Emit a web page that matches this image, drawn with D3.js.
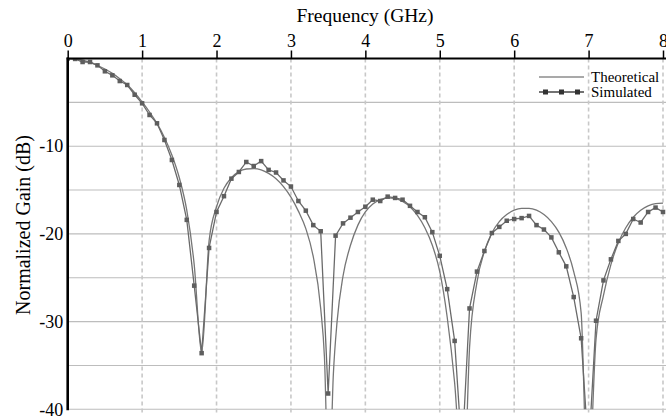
<!DOCTYPE html>
<html>
<head>
<meta charset="utf-8">
<script src="https://cdn.jsdelivr.net/npm/d3@7"></script>
<style>
  html, body { margin: 0; padding: 0; background: #fff; }
  svg { display: block; }
  svg text { font-family: "Liberation Serif", "Times New Roman", serif; fill: #000; }
</style>
</head>
<body>
<svg id="chart" width="666" height="418"></svg>
<script>
const xTicks = [0, 1, 2, 3, 4, 5, 6, 7, 8];
const yTickLabels = [-10, -20, -30, -40];
const yGrid = [-5, -10, -15, -20, -25, -30, -35, -40];
const seriesNames = ["Theoretical", "Simulated"];

const simFreq = [0.0,0.1,0.2,0.3,0.4,0.5,0.6,0.7,0.8,0.9,1.0,1.1,1.2,1.3,1.4,1.5,1.6,1.7,1.8,1.9,
  2.0,2.1,2.2,2.3,2.4,2.5,2.6,2.7,2.8,2.9,3.0,3.1,3.2,3.3,3.4,3.5,3.6,3.7,3.8,3.9,
  4.0,4.1,4.2,4.3,4.4,4.5,4.6,4.7,4.8,4.9,5.0,5.1,5.2,5.3,5.4,5.5,5.6,5.7,5.8,5.9,
  6.0,6.1,6.2,6.3,6.4,6.5,6.6,6.7,6.8,6.9,7.0,7.1,7.2,7.3,7.4,7.5,7.6,7.7,7.8,7.9,8.0];
const simGain = [0,-0.05,-0.4,-0.4,-0.78,-1.46,-1.92,-2.57,-3.02,-4.13,-5.11,-6.44,-7.39,-9.29,-11.57,-14.42,-18.4,-25.9,-33.6,-21.6,
  -17.5,-15.7,-13.7,-12.94,-11.8,-12.26,-11.7,-12.7,-13.0,-13.9,-14.6,-16.25,-17.35,-19.0,-19.7,-38.2,-20.2,-18.8,-18.15,-17.5,
  -16.9,-16.1,-16.25,-15.75,-15.9,-16.1,-16.8,-17.5,-18.1,-19.8,-22.5,-26.3,-32.2,-45,-28.5,-24.3,-21.95,-19.9,-19.2,-18.5,
  -18.3,-18.2,-17.95,-19.0,-19.5,-20.4,-22.1,-23.7,-27.2,-31.9,-45,-29.9,-25.3,-22.9,-20.8,-20.0,-18.3,-18.7,-17.5,-17.0,-17.5];

const theoFreq = [0.0,0.1,0.2,0.3,0.4,0.5,0.6,0.7,0.8,0.9,1.0,1.1,1.2,1.3,1.4,1.5,1.6,1.7,1.8,1.9,
  2.0,2.1,2.2,2.3,2.4,2.5,2.6,2.7,2.8,2.9,3.0,3.1,3.2,3.3,3.4,3.45,3.51,3.57,3.62,3.7,3.8,3.9,
  4.0,4.1,4.2,4.3,4.4,4.5,4.6,4.7,4.8,4.9,5.0,5.1,5.2,5.32,5.4,5.5,5.6,5.7,5.8,5.9,
  6.0,6.1,6.2,6.3,6.4,6.5,6.6,6.7,6.8,6.9,6.99,7.1,7.2,7.3,7.4,7.5,7.6,7.7,7.8,7.9,8.0];
const theoGain = [0,-0.05,-0.2,-0.45,-0.8,-1.2,-1.7,-2.3,-3.0,-3.9,-4.95,-6.1,-7.4,-9.0,-11.0,-13.6,-17.3,-23.5,-33.6,-20.8,
  -16.9,-14.8,-13.6,-12.9,-12.6,-12.55,-12.7,-13.1,-13.7,-14.6,-15.8,-17.4,-19.4,-22.6,-28.5,-34,-50,-36,-30,-24.8,-21.3,-19.0,
  -17.5,-16.6,-16.1,-15.9,-15.95,-16.3,-16.9,-17.9,-19.3,-21.3,-24.3,-29.5,-37,-50,-33,-25.5,-22.0,-19.9,-18.6,-17.8,
  -17.3,-17.1,-17.1,-17.3,-17.8,-18.6,-19.8,-21.6,-24.3,-29,-50,-32,-27,-23.5,-21.0,-19.3,-18.1,-17.3,-16.8,-16.55,-16.5];

const FONT = "'Liberation Serif', 'Times New Roman', serif";
const svg = d3.select("#chart");
const W = 666, H = 418;
const pL = 67.7, pR = 663, pT = 58.5, pB = 409.3;

const x = d3.scaleLinear().domain([0, 8]).range([pL, pR]);
const y = d3.scaleLinear().domain([0, -40]).range([pT, pB]);

svg.append("defs").append("clipPath").attr("id", "plotclip")
  .append("rect").attr("x", pL).attr("y", pT).attr("width", W - pL).attr("height", pB - pT);

// horizontal grid
svg.append("g").selectAll("line").data(yGrid).join("line")
  .attr("x1", pL).attr("x2", W)
  .attr("y1", d => y(d)).attr("y2", d => y(d))
  .attr("stroke", "#bdbdbd").attr("stroke-width", 1.1);

// vertical dashed grid
svg.append("g").selectAll("line").data(xTicks.filter(d => d > 0)).join("line")
  .attr("x1", d => x(d)).attr("x2", d => x(d))
  .attr("y1", pT).attr("y2", pB + 4)
  .attr("stroke", "#c8c8c8").attr("stroke-width", 1.6).attr("stroke-dasharray", "4,3");

// series
const theo = theoFreq.map((f, i) => [f, theoGain[i]]);
const sim = simFreq.map((f, i) => [f, simGain[i]]);
const plot = svg.append("g").attr("clip-path", "url(#plotclip)");
plot.append("path").datum(theo)
  .attr("d", d3.line().x(d => x(d[0])).y(d => y(d[1])).curve(d3.curveMonotoneX))
  .attr("fill", "none").attr("stroke", "#767676").attr("stroke-width", 1.3);
plot.append("path").datum(sim)
  .attr("d", d3.line().x(d => x(d[0])).y(d => y(d[1])))
  .attr("fill", "none").attr("stroke", "#6a6a6a").attr("stroke-width", 1.3);
const ms = 4.5;
plot.append("g").selectAll("rect").data(sim.filter(d => d[1] > -40)).join("rect")
  .attr("x", d => x(d[0]) - ms / 2).attr("y", d => y(d[1]) - ms / 2)
  .attr("width", ms).attr("height", ms).attr("fill", "#5e5e5e");

// top axis
const xAxis = d3.axisTop(x).tickValues(xTicks).tickSize(8).tickPadding(4).tickSizeOuter(0).tickFormat(d => String(d));
const gx = svg.append("g").attr("transform", `translate(0,${pT})`).call(xAxis);
gx.attr("font-family", FONT);
gx.select(".domain").remove();
gx.selectAll(".tick line").attr("stroke", "#000").attr("stroke-width", 1.5);
gx.selectAll(".tick text").attr("font-size", 18).attr("font-family", FONT).attr("fill", "#000");
svg.append("line").attr("x1", pL - 1).attr("x2", W).attr("y1", pT).attr("y2", pT)
  .attr("stroke", "#000").attr("stroke-width", 2);

// left axis
const yAxis = d3.axisLeft(y).tickValues(yTickLabels).tickSize(0).tickPadding(4.5).tickFormat(d => String(d));
const gy = svg.append("g").attr("transform", `translate(${pL},0)`).call(yAxis);
gy.attr("font-family", FONT);
gy.select(".domain").remove();
gy.selectAll(".tick text").attr("font-size", 18).attr("font-family", FONT).attr("fill", "#000");
svg.append("line").attr("x1", pL).attr("x2", pL).attr("y1", pT - 1).attr("y2", pB + 1)
  .attr("stroke", "#000").attr("stroke-width", 2.6);

// titles
svg.append("text").attr("x", 365).attr("y", 22).attr("text-anchor", "middle")
  .attr("font-family", FONT).attr("font-size", 19.5).text("Frequency (GHz)");
svg.append("text").attr("transform", `translate(30,225) rotate(-90)`).attr("text-anchor", "middle")
  .attr("font-family", FONT).attr("font-size", 20).text("Normalized Gain (dB)");

// legend
const lg = svg.append("g");
const legY = [77, 92];
lg.append("line").attr("x1", 539).attr("x2", 584).attr("y1", legY[0]).attr("y2", legY[0])
  .attr("stroke", "#555").attr("stroke-width", 1.2);
lg.append("line").attr("x1", 539).attr("x2", 584).attr("y1", legY[1]).attr("y2", legY[1])
  .attr("stroke", "#444").attr("stroke-width", 1.3);
lg.selectAll("rect").data([545.5, 561.5, 577.5]).join("rect")
  .attr("x", d => d - 2.5).attr("y", legY[1] - 2.5).attr("width", 5).attr("height", 5).attr("fill", "#333");
lg.selectAll("text").data(seriesNames).join("text")
  .attr("x", 591).attr("y", (d, i) => legY[i] + 5).attr("font-family", FONT).attr("font-size", 15).text(d => d);
</script>
</body>
</html>
